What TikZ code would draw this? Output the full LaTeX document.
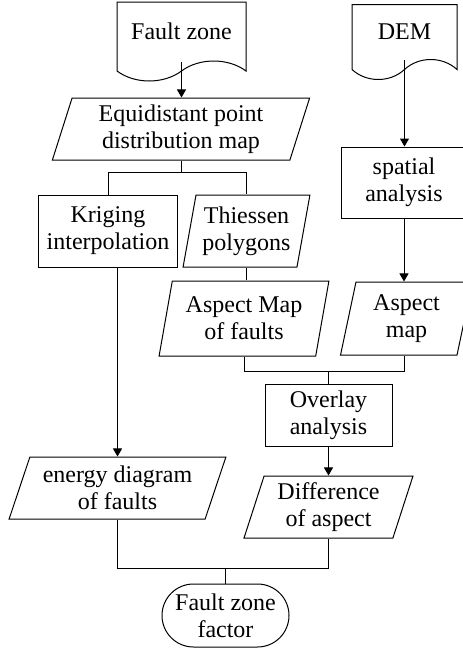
\documentclass[tikz,border=0pt]{standalone}
\usepackage{fontspec}
\setmainfont{Liberation Serif}
\usetikzlibrary{arrows.meta,positioning,calc,shapes.geometric,shapes.symbols,shapes.misc}

\begin{document}
\begin{tikzpicture}[
  x=1pt, y=-1pt, line width=1pt,
  every node/.style={font=\fontsize{24}{27}\selectfont, align=center, inner sep=0pt},
  proc/.style={rectangle, draw},
  data/.style={trapezium, trapezium stretches=true, trapezium left angle=#1, trapezium right angle={180-#1}, draw},
  doc/.style={tape, tape bend top=none, tape bend bottom=in and out, tape bend height=20pt, draw},
  term/.style={rounded rectangle, draw},
  arr/.style={-{Triangle[length=8pt, width=9pt]}}
]
\useasboundingbox (0,0) rectangle (463,651);

\node[doc, minimum width=129, minimum height=79] (fz) at (181.5,31.5) {Fault zone};
\node[doc, minimum width=105, minimum height=75] (dem) at (404.5,32) {DEM};
\node[data=73, minimum width=258, minimum height=62] (eqd) at (181,129) {Equidistant point\\distribution map};
\node[proc, minimum width=139, minimum height=72] (kri) at (108,231) {Kriging\\interpolation};
\node[data=77, minimum width=127, minimum height=72] (thi) at (246.5,231) {Thiessen\\polygons};
\node[proc, minimum width=126, minimum height=71] (spa) at (404,182.5) {spatial\\analysis};
\node[data=76, minimum width=170, minimum height=75] (asf) at (244,318.5) {Aspect Map\\of faults};
\node[data=78, minimum width=133, minimum height=73] (asm) at (406.5,318.5) {Aspect\\map};
\node[proc, minimum width=127, minimum height=62] (ovl) at (328.5,415) {Overlay\\analysis};
\node[data=68, minimum width=217, minimum height=62] (ene) at (117.5,488) {energy diagram\\of faults};
\node[data=72, minimum width=169, minimum height=62] (dif) at (328.5,507) {Difference\\of aspect};
\node[term, minimum width=127, minimum height=63] (fzf) at (225.5,615.5) {Fault zone\\factor};

% arrows
\draw[arr] (fz.south) -- (fz.south |- eqd.north);
\draw[arr] (dem.south) -- (dem.south |- spa.north);
\draw[arr] (spa.south) -- (spa.south |- asm.north);
\draw[arr] (kri.south -| ene.north) -- (ene.north);
\draw[arr] (ovl.south) -- (ovl.south |- dif.north);

% joins
\path (eqd.south) ++(0,12) coordinate (b1);
\draw (eqd.south) -- (b1);
\draw (kri.north) |- (b1) -| (thi.north);
\draw (thi.south) -- (thi.south |- asf.north);
\path (ovl.north) ++(0,-12) coordinate (b2);
\draw (asf.south) |- (b2) -| (spa.south |- asm.south);
\draw (b2) -- (ovl.north);
\path (fzf.north) ++(0,-15) coordinate (b3);
\draw (ene.south) |- (b3) -| (dif.south);
\draw (b3) -- (fzf.north);

\end{tikzpicture}
\end{document}
